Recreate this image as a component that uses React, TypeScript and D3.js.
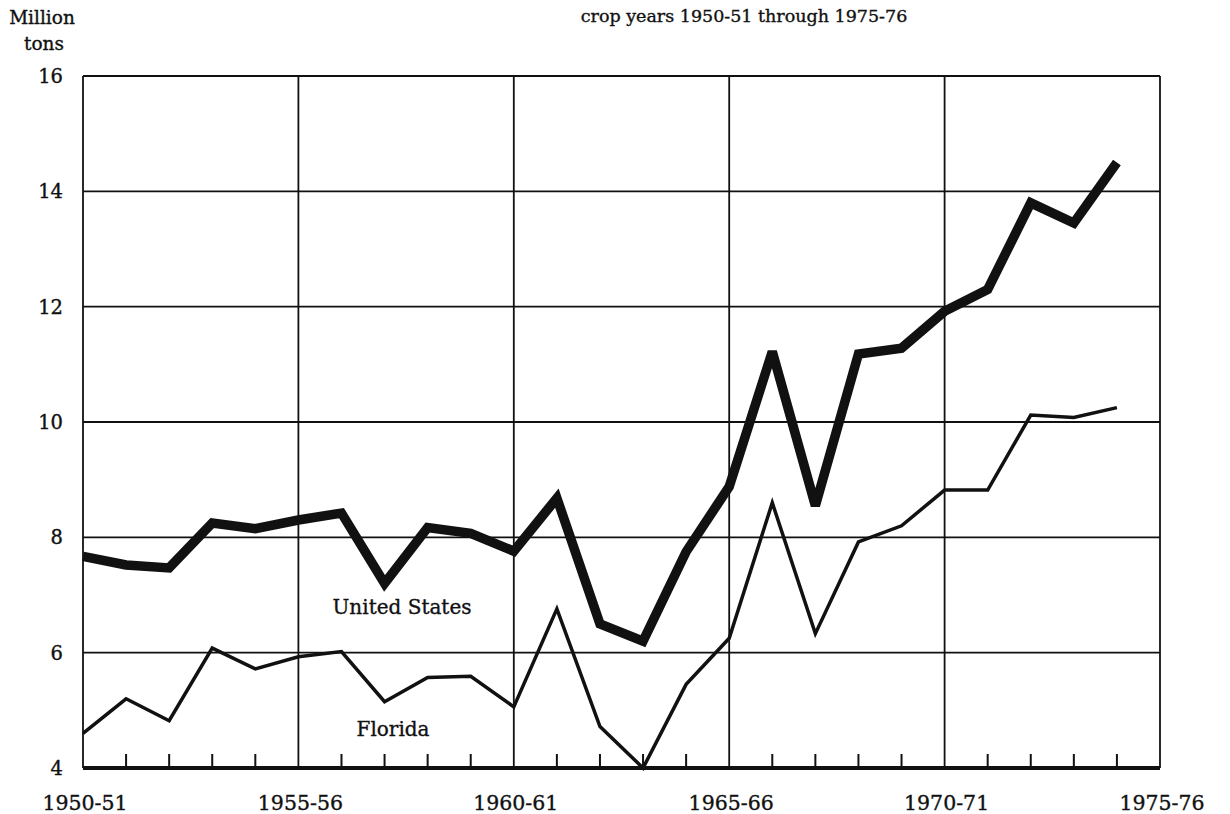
import * as d3 from "d3";

// crop years 1950-51 .. 1974-75 (index 0 = 1950-51)
const usTons = [
  7.67, 7.52, 7.47, 8.25, 8.15, 8.3, 8.42, 7.2, 8.17, 8.07, 7.76, 8.68, 6.5,
  6.2, 7.75, 8.88, 11.22, 8.55, 11.18, 11.28, 11.92, 12.3, 13.8, 13.45, 14.5,
];
const floridaTons = [
  4.6, 5.2, 4.82, 6.08, 5.72, 5.93, 6.02, 5.15, 5.57, 5.59, 5.06, 6.76, 4.72,
  4.0, 5.45, 6.25, 8.6, 6.33, 7.92, 8.2, 8.82, 8.82, 10.12, 10.08, 10.25,
];
const yearLabels = ["1950-51", "1955-56", "1960-61", "1965-66", "1970-71", "1975-76"];
const yTicks = [4, 6, 8, 10, 12, 14, 16];

const W = 1230;
const H = 814;
const font = "'DejaVu Serif', serif";
const ink = "#111";

export default function App() {
  const x = d3.scaleLinear().domain([0, 25]).range([83, 1160]);
  const y = d3.scaleLinear().domain([4, 16]).range([768, 76]);

  const line = d3
    .line<number>()
    .x((_, i) => x(i))
    .y((d) => y(d));

  const years = d3.range(0, 26);
  // slight stroke to mimic the heavier print type
  const txt = { fill: ink, stroke: ink, strokeWidth: 0.35 };

  return (
    <svg
      width={W}
      height={H}
      style={{ position: "absolute", left: 0, top: 0, background: "#fff" }}
      fontFamily={font}
    >
      {/* header text */}
      <text x={42} y={24} fontSize={18.5} textAnchor="middle" {...txt}>Million</text>
      <text x={44} y={50} fontSize={18.5} textAnchor="middle" {...txt}>tons</text>
      <text x={744} y={22} fontSize={17.5} textAnchor="middle" {...txt}>
        crop years 1950-51 through 1975-76
      </text>

      {/* horizontal grid */}
      {yTicks.map((t) => (
        <line
          key={"h" + t}
          x1={x(0)}
          x2={x(25)}
          y1={y(t)}
          y2={y(t)}
          stroke={ink}
          strokeWidth={t === 4 ? 4 : 1.8}
        />
      ))}
      {/* vertical grid */}
      {yearLabels.map((_, k) => (
        <line
          key={"v" + k}
          x1={x(k * 5)}
          x2={x(k * 5)}
          y1={y(16)}
          y2={y(4)}
          stroke={ink}
          strokeWidth={1.8}
        />
      ))}
      {/* year ticks */}
      {years
        .filter((i) => i % 5 !== 0)
        .map((i) => (
          <line
            key={"t" + i}
            x1={x(i)}
            x2={x(i)}
            y1={y(4)}
            y2={y(4) - 14}
            stroke={ink}
            strokeWidth={2}
          />
        ))}

      {/* y labels */}
      {yTicks.map((t) => (
        <text
          key={"yl" + t}
          x={63}
          y={y(t) + 7}
          fontSize={19.5}
          textAnchor="end"
          {...txt}
        >
          {t}
        </text>
      ))}
      {/* x labels */}
      {yearLabels.map((l, k) => (
        <text
          key={"xl" + l}
          x={x(k * 5) + 2}
          y={810}
          fontSize={20.5}
          textAnchor="middle"
          {...txt}
        >
          {l}
        </text>
      ))}

      {/* series */}
      <path
        d={line(floridaTons) || ""}
        fill="none"
        stroke={ink}
        strokeWidth={3.5}
        strokeLinejoin="miter"
      />
      <path
        d={line(usTons) || ""}
        fill="none"
        stroke={ink}
        strokeWidth={9.5}
        strokeLinejoin="miter"
        strokeMiterlimit={3}
      />

      <text x={402} y={614} fontSize={20} textAnchor="middle" {...txt}>United States</text>
      <text x={393} y={736} fontSize={20} textAnchor="middle" {...txt}>Florida</text>
    </svg>
  );
}
